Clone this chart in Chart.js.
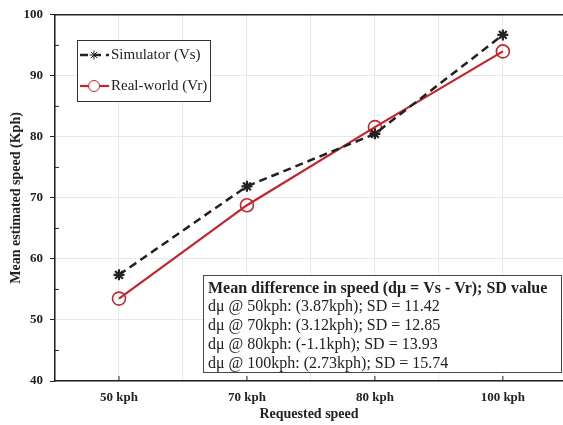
<!DOCTYPE html>
<html>
<head>
<meta charset="utf-8">
<script src="https://cdn.jsdelivr.net/npm/chart.js@4.4.1/dist/chart.umd.min.js"></script>
<style>
  html, body { margin: 0; padding: 0; background: #fff; }
  #wrap { width: 563px; height: 425px; }
</style>
</head>
<body>
<div id="wrap"><canvas id="speedChart" width="563" height="425"></canvas></div>
<script>
const categories = ['50 kph', '70 kph', '80 kph', '100 kph'];
const simulator = [57.4, 71.9, 80.5, 96.7];
const realWorld = [53.5, 68.8, 81.6, 94.0];
const seriesNames = ['Simulator (Vs)', 'Real-world (Vr)'];
const yMin = 40, yMax = 100, yStep = 10;
const noteTitle = 'Mean difference in speed (dμ = Vs - Vr); SD value';
const noteLines = [
    'dμ @ 50kph: (3.87kph); SD = 11.42',
    'dμ @ 70kph: (3.12kph); SD = 12.85',
    'dμ @ 80kph: (-1.1kph); SD = 13.93',
    'dμ @ 100kph: (2.73kph); SD = 15.74'
];

const serif = '"Liberation Serif", "Times New Roman", serif';
const red = '#c8232c';
const ink = '#222';

// ticks, top border, legend and text box
const decorations = {
    id: 'decorations',
    afterDraw(chart) {
        const { ctx, chartArea, scales } = chart;
        ctx.save();
        ctx.strokeStyle = ink;
        ctx.lineWidth = 1.5;
        // top border
        ctx.beginPath();
        ctx.moveTo(chartArea.left, chartArea.top);
        ctx.lineTo(chartArea.right, chartArea.top);
        ctx.stroke();
        // inward x ticks
        ctx.lineWidth = 1;
        categories.forEach((c, i) => {
            const x = scales.x.getPixelForValue(i);
            ctx.beginPath();
            ctx.moveTo(x, chartArea.bottom);
            ctx.lineTo(x, chartArea.bottom - 5);
            ctx.stroke();
        });
        // inward minor y ticks
        for (let v = yMin + yStep / 2; v < yMax; v += yStep) {
            const y = scales.y.getPixelForValue(v);
            ctx.beginPath();
            ctx.moveTo(chartArea.left, y);
            ctx.lineTo(chartArea.left + 4, y);
            ctx.stroke();
        }

        // legend
        const lx = 77, ly = 40, lw = 133, lh = 61;
        ctx.fillStyle = '#fff';
        ctx.fillRect(lx, ly, lw, lh);
        ctx.strokeStyle = '#333';
        ctx.lineWidth = 1;
        ctx.strokeRect(lx + 0.5, ly + 0.5, lw, lh);
        chart.data.datasets.forEach((ds, i) => {
            const y = ly + 15 + i * 31;
            ctx.save();
            ctx.strokeStyle = ds.borderColor;
            ctx.lineWidth = ds.borderWidth;
            ctx.setLineDash(ds.borderDash || []);
            ctx.beginPath();
            ctx.moveTo(lx + 3, y);
            ctx.lineTo(lx + 32, y);
            ctx.stroke();
            ctx.restore();
            ctx.strokeStyle = ds.pointBorderColor;
            ctx.fillStyle = '#fff';
            Chart.helpers.drawPoint(ctx, {
                pointStyle: ds.pointStyle, radius: ds.pointRadius - 1,
                borderWidth: ds.pointBorderWidth, rotation: 0
            }, lx + 17, y);
            ctx.fillStyle = ink;
            ctx.font = '15px ' + serif;
            ctx.textBaseline = 'middle';
            ctx.textAlign = 'left';
            ctx.fillText(ds.label, lx + 34, y);
        });

        // text box
        const bx = 203, by = 275, bw = 358, bh = 97;
        ctx.fillStyle = '#fff';
        ctx.fillRect(bx, by, bw, bh);
        ctx.strokeStyle = '#444';
        ctx.strokeRect(bx + 0.5, by + 0.5, bw, bh);
        ctx.fillStyle = ink;
        ctx.textBaseline = 'middle';
        ctx.font = 'bold 16px ' + serif;
        ctx.fillText(noteTitle, bx + 5, by + 14);
        ctx.font = '16px ' + serif;
        noteLines.forEach((t, i) => {
            ctx.fillText(t, bx + 5, by + 32 + i * 19);
        });
        ctx.restore();
    }
};

new Chart(document.getElementById('speedChart'), {
    type: 'line',
    data: {
        datasets: [
            {
                label: seriesNames[0],
                data: simulator.map((v, i) => ({ x: i, y: v })),
                borderColor: ink,
                borderWidth: 2.5,
                borderDash: [8, 5],
                pointStyle: 'star',
                pointRadius: 5.5,
                pointBorderWidth: 2.2,
                pointBorderColor: ink,
                pointBackgroundColor: 'rgba(255,255,255,0)',
                tension: 0
            },
            {
                label: seriesNames[1],
                data: realWorld.map((v, i) => ({ x: i, y: v })),
                borderColor: red,
                borderWidth: 2.2,
                pointStyle: 'circle',
                pointRadius: 6.5,
                pointBorderWidth: 1.6,
                pointBorderColor: red,
                pointBackgroundColor: 'rgba(255,255,255,0)',
                tension: 0
            }
        ]
    },
    options: {
        responsive: false,
        animation: false,
        layout: { autoPadding: false, padding: { top: 12, right: 0, left: 0, bottom: 0 } },
        plugins: { legend: { display: false }, tooltip: { enabled: false } },
        scales: {
            x: {
                type: 'linear',
                min: -0.5,
                max: 3.47,
                afterBuildTicks(scale) {
                    const t = [];
                    for (let v = -0.5; v <= categories.length - 1; v += 0.5) t.push({ value: v });
                    scale.ticks = t;
                },
                afterFit(scale) {
                    scale.height = 44;
                    scale.paddingLeft = 0;
                    scale.paddingRight = 0;
                },
                grid: { color: '#e8e8e8', lineWidth: 1, drawTicks: false },
                border: { color: ink, width: 1.5 },
                ticks: {
                    autoSkip: false,
                    maxRotation: 0,
                    padding: 9,
                    color: ink,
                    font: { family: serif, size: 13, weight: 'bold' },
                    callback: v => Number.isInteger(v) ? categories[v] : ''
                },
                title: {
                    display: true,
                    text: 'Requested speed',
                    color: ink,
                    font: { family: serif, size: 14, weight: 'bold' },
                    padding: { top: 0, bottom: 2 }
                }
            },
            y: {
                min: yMin,
                max: yMax,
                afterFit(scale) { scale.width = 55; },
                grid: { color: '#e8e8e8', lineWidth: 1, drawTicks: true, tickLength: 5, tickColor: ink },
                border: { color: ink, width: 1.5 },
                ticks: {
                    stepSize: yStep,
                    padding: 7,
                    color: ink,
                    font: { family: serif, size: 13, weight: 'bold' }
                },
                title: {
                    display: true,
                    text: 'Mean estimated speed (Kph)',
                    color: ink,
                    font: { family: serif, size: 14, weight: 'bold' },
                    padding: { top: 8, bottom: 0 }
                }
            }
        }
    },
    plugins: [decorations]
});
</script>
</body>
</html>
